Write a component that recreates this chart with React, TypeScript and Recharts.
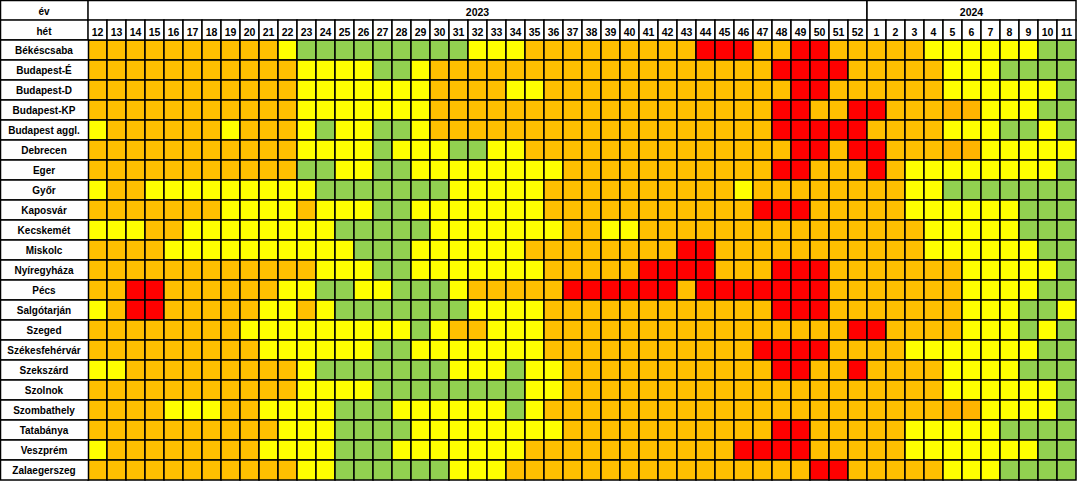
import React from 'react';
import { BarChart, Bar, XAxis, YAxis, Cell } from 'recharts';

// ---- data ----
const YEARS = ['2023', '2024'];
const WEEKS_2023 = ['12','13','14','15','16','17','18','19','20','21','22','23','24','25','26','27','28','29','30','31','32','33','34','35','36','37','38','39','40','41','42','43','44','45','46','47','48','49','50','51','52'];
const WEEKS_2024 = ['1','2','3','4','5','6','7','8','9','10','11'];
const CITIES = [
  'Békéscsaba', 'Budapest-É', 'Budapest-D', 'Budapest-KP', 'Budapest aggl.', 'Debrecen', 'Eger', 'Győr',
  'Kaposvár', 'Kecskemét', 'Miskolc', 'Nyíregyháza', 'Pécs', 'Salgótarján', 'Szeged', 'Székesfehérvár',
  'Szekszárd', 'Szolnok', 'Szombathely', 'Tatabánya', 'Veszprém', 'Zalaegerszeg',
];
// level per cell: G = green, Y = yellow, O = orange, D = darker orange, R = red
const LEVELS_2023 = [
  'OOOOOOOOOOYGGGGGGGGGYYYOOOOOOOOORRROORROO',
  'OOOOOOOOOOOYYYYGGYOOOOOOOOOOOOOOOOOORRRRO',
  'OOOOOOOOOOOYYYYYYYOOOOYYOOOOOOOOOOOOORROO',
  'OOOOOOOOOOOYYYYYYYOOOOOOOOOOOOOOOOOORROOR',
  'YOOOOOOYOOOYGYYGGYOOOOOOOOOOOOOOOOOORRRRR',
  'OOOOOOOOOOOYYYYGYYYGGYYOOOOOOOOOOOOOORROR',
  'OOOOOOOOOOOGGYYGGYYYYYYYYOOOOOOOOOOORROOO',
  'YOOYYYYYYYYYGGGGGGGYYYYYOOOOOOOOOOYOOOOOO',
  'OOOOOOOYYYYOYYYGGYYYYYYYOOOOOOOOOOORRROOO',
  'YYYOOYYYYYYYYGGGGGYYYYYYYOOYYOOOOOOOOOOOO',
  'OOOOYYYYYYYYYYGGGYYYYYYOOOOOOOORROOOOOOOO',
  'OOOOOOOOOOOOYYYGGYYYYYYYOOOOORRRROOORRROO',
  'OORROOOOOOYYGGYYGGGYOOOOORRRRRRORRRRRRROO',
  'YORROOOOOYYOYGGGGGGGYYYYOOOOOOOOOOOORRROO',
  'OOOOOOOOYYYYYYYYYGYOOYYYOOOOOOOOOOOOOOOOR',
  'OOOOOOOOOYYYYYYGGYYYYYYYOOOOOOOOOOORRRROO',
  'YYOOOOOOOOOYGGGGGGGYYYGYYOOOOOOOOOOORROOR',
  'OOOOOOOOOOOYYYYGGGGGGGGYYOOOOOOOOOOOOOOOO',
  'OOOOYYYOOYYYYGGGYYYYYYGYOOOOOOOOOOOOOOOOO',
  'OOOOOOOOOOYYYGGGGYYYYYYYYOOOOOOOOOOORROOO',
  'YOOOOOOOOYYYYGGGYYYYYYYOOOOOOOOOOORRRROOO',
  'OOOOOOOOOOOYYGGGGGGYYYOOOOOOOOOOOOOOOORRO',
];
const LEVELS_2024 = [
  'OOOYYYYYYGG',
  'OOOOYYYGGGG',
  'OOOOYYYYYYG',
  'ROOODDYYYGG',
  'OOOOYYYGGYG',
  'ROOODDYYYYY',
  'ROYYYYYYYYG',
  'OOYYGGGGGGG',
  'OOYYYYYYGGG',
  'OOOYYYYYGGG',
  'OOOYYYYYYGG',
  'OOOOOYYYYYG',
  'OOOOOYYYYGG',
  'OOOOOYYYGGY',
  'ROOOOYYYGYG',
  'OOYYYYYYYGG',
  'OOOOYYYYGGG',
  'OOOOYYYYYYG',
  'OOOODDYYYYG',
  'OOYYYYYGGGG',
  'OOYYYYYYYGG',
  'OOOOYYYGGGG',
];

// ---- style ----
const COLORS: Record<string, string> = {
  G: '#92D050',
  Y: '#FFFF00',
  O: '#FFC000',
  D: '#FFB400',
  R: '#FF0000',
};
const W = 1077;
const H = 482;
const LABEL_W = 88;
const ROW_H = 20;
const RIGHT = 1;
const FONT = '"Liberation Sans", Arial, sans-serif';

const WEEKS = [...WEEKS_2023, ...WEEKS_2024];
const YEAR_SPANS = [WEEKS_2023.length, WEEKS_2024.length];
const CELL_W = (W - LABEL_W - RIGHT) / WEEKS.length;

const rows = CITIES.map((city, r) => {
  const o: Record<string, any> = { city };
  const lv = LEVELS_2023[r] + LEVELS_2024[r];
  WEEKS.forEach((_, i) => {
    o['c' + i] = 1;
    o['l' + i] = lv[i];
  });
  return o;
});

const WeekTick = (props: any) => {
  const { x, payload } = props;
  const i = payload.index;
  const left = x - CELL_W / 2;
  const parts: React.ReactNode[] = [];
  if (i === 0) {
    parts.push(
      <g key="corner">
        <rect x={0.5} y={0.5} width={LABEL_W} height={ROW_H} fill="#fff" stroke="#000" strokeWidth={1.5} />
        <text x={LABEL_W / 2} y={15} textAnchor="middle" fontSize={10} fontWeight="bold" fontFamily={FONT} fill="#000">év</text>
        <rect x={0.5} y={ROW_H} width={LABEL_W} height={ROW_H} fill="#fff" stroke="#000" strokeWidth={1.5} />
        <text x={LABEL_W / 2} y={ROW_H + 15} textAnchor="middle" fontSize={10} fontWeight="bold" fontFamily={FONT} fill="#000">hét</text>
      </g>
    );
  }
  let start = 0;
  YEAR_SPANS.forEach((span, k) => {
    if (i === start) {
      parts.push(
        <g key={'y' + k}>
          <rect x={left} y={0.5} width={span * CELL_W} height={ROW_H} fill="#fff" stroke="#000" strokeWidth={1.5} />
          <text x={left + (span * CELL_W) / 2} y={16} textAnchor="middle" fontSize={10.5} fontWeight="bold" fontFamily={FONT} fill="#000">{YEARS[k]}</text>
        </g>
      );
    }
    start += span;
  });
  parts.push(
    <g key="w">
      <rect x={left} y={ROW_H} width={CELL_W} height={ROW_H} fill="#fff" stroke="#000" strokeWidth={1.5} />
      <text x={x} y={ROW_H + 16} textAnchor="middle" fontSize={10.5} fontWeight="bold" fontFamily={FONT} fill="#000">{WEEKS[i]}</text>
    </g>
  );
  return <g>{parts}</g>;
};

const CityTick = (props: any) => {
  const { y, payload } = props;
  return (
    <g>
      <rect x={0.5} y={y - ROW_H / 2} width={LABEL_W} height={ROW_H} fill="#fff" stroke="#000" strokeWidth={1.5} />
      <text x={LABEL_W / 2} y={y + 4} textAnchor="middle" fontSize={10} fontWeight="bold" fontFamily={FONT} fill="#000">{payload.value}</text>
    </g>
  );
};

export default function App() {
  return (
    <div style={{ width: W, height: H, background: '#fff' }}>
      <style>{'body{margin:0;background:#fff}'}</style>
      <BarChart
        width={W}
        height={H}
        data={rows}
        layout="vertical"
        margin={{ top: 0, right: RIGHT, bottom: 2, left: 0 }}
        barCategoryGap={0}
        barGap={0}
      >
        <XAxis
          xAxisId="w"
          type="number"
          orientation="top"
          domain={[0, WEEKS.length]}
          ticks={WEEKS.map((_, i) => i + 0.5)}
          interval={0}
          height={ROW_H * 2}
          axisLine={false}
          tickLine={false}
          tickSize={0}
          tick={<WeekTick />}
        />
        <YAxis
          type="category"
          dataKey="city"
          width={LABEL_W}
          axisLine={false}
          tickLine={false}
          interval={0}
          tick={<CityTick />}
        />
        {WEEKS.map((_, i) => (
          <Bar
            key={'c' + i}
            xAxisId="w"
            dataKey={'c' + i}
            stackId="s"
            isAnimationActive={false}
            stroke="#000"
            strokeWidth={1.5}
          >
            {rows.map((row, r) => (
              <Cell key={r} fill={COLORS[row['l' + i]]} />
            ))}
          </Bar>
        ))}
      </BarChart>
    </div>
  );
}
